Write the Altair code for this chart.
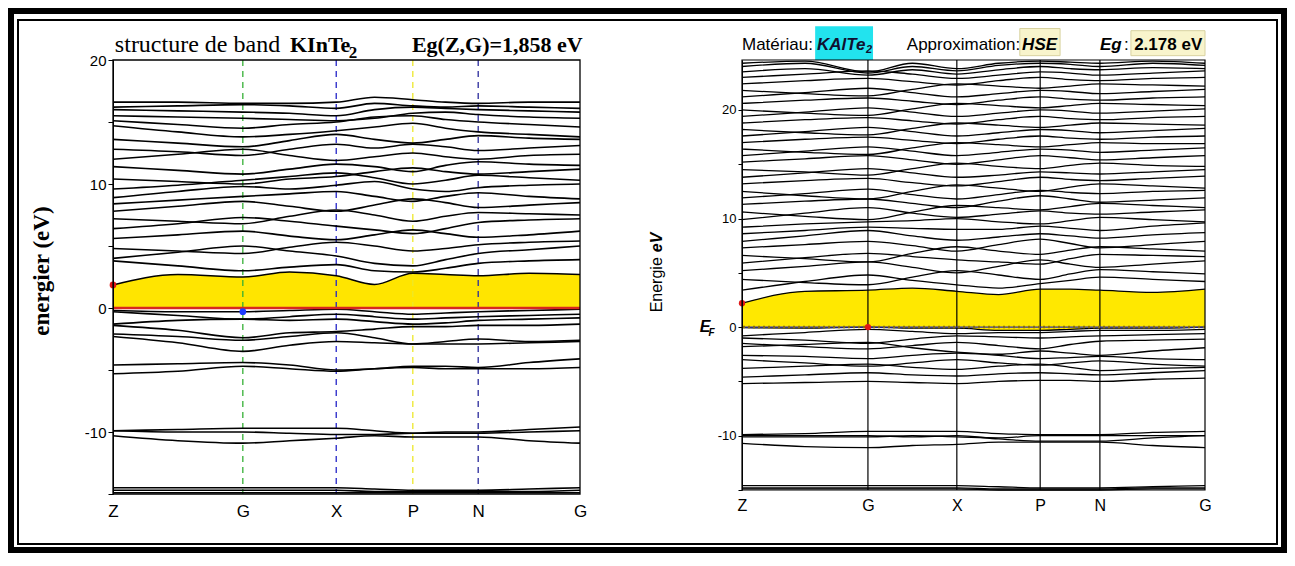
import altair as alt
import pandas as pd

# ---------------- k-path (fraction of path length) ----------------
SYM_NAMES = ["Z", "G", "X", "P", "N", "G"]
SYM_L = [0.0, 0.278, 0.478, 0.642, 0.782, 1.0]
SYM_R = [0.0, 0.272, 0.464, 0.644, 0.773, 1.0]
K_L = [0.0, 0.139, 0.278, 0.378, 0.478, 0.560, 0.642, 0.712, 0.782, 0.891, 1.0]
K_R = [0.0, 0.136, 0.272, 0.368, 0.464, 0.554, 0.644, 0.709, 0.773, 0.887, 1.0]

# ---------------- left panel : KInTe2 ----------------
CB_L = [1.86, 2.7, 2.5, 2.9, 2.6, 1.9, 2.8, 2.7, 2.6, 2.8, 2.7]
CORE_L = [
    [-14.5, -14.5, -14.5, -14.5, -14.5, -14.6, -14.7, -14.7, -14.7, -14.6, -14.5],
    [-14.7, -14.7, -14.7, -14.7, -14.7, -14.8, -14.8, -14.8, -14.8, -14.8, -14.7],
    [-14.9, -14.9, -14.9, -14.9, -14.9, -14.9, -14.9, -14.9, -14.9, -14.9, -14.9],
]
SEMI_L = [
    [-9.9, -9.8, -9.7, -9.7, -9.7, -9.9, -10.1, -10.0, -10.0, -9.8, -9.6],
    [-9.9, -10.0, -10.0, -10.1, -10.2, -10.2, -10.1, -10.1, -10.1, -10.0, -9.9],
    [-10.3, -10.7, -10.9, -10.7, -10.5, -10.3, -10.4, -10.4, -10.4, -10.7, -10.9],
]
VAL_L = [
    [-0.2, -0.3, -0.3, -0.2, -0.1, -0.3, -0.5, -0.4, -0.3, -0.2, -0.1],
    [-0.3, -0.6, -0.9, -0.7, -0.5, -0.7, -0.9, -0.8, -0.7, -0.6, -0.5],
    [-1.3, -1.0, -0.9, -1.0, -0.9, -1.1, -1.3, -1.2, -1.0, -0.9, -0.8],
    [-1.4, -1.8, -2.4, -2.0, -1.9, -1.7, -1.5, -1.5, -1.4, -1.4, -1.3],
    [-2.1, -2.3, -2.6, -2.3, -2.0, -2.4, -2.9, -2.7, -2.5, -2.7, -2.6],
    [-2.3, -2.8, -3.5, -3.0, -2.7, -2.8, -2.9, -2.9, -2.9, -2.8, -2.7],
    [-4.6, -4.5, -4.4, -4.6, -5.0, -4.9, -4.7, -4.7, -4.8, -4.4, -4.1],
    [-5.3, -5.1, -4.7, -4.9, -5.1, -4.9, -4.8, -4.9, -4.9, -4.9, -4.8],
]
COND_L = [
    [3.8, 3.4, 3.0, 3.3, 3.5, 3.0, 2.9, 3.2, 3.6, 3.8, 3.9],
    [4.0, 4.5, 5.0, 4.6, 4.2, 3.6, 3.4, 3.9, 4.4, 4.7, 5.0],
    [4.8, 4.6, 4.4, 4.9, 5.3, 5.0, 4.6, 4.8, 5.1, 5.3, 5.4],
    [5.6, 5.9, 6.2, 5.8, 5.5, 5.9, 6.3, 6.0, 5.7, 5.9, 6.2],
    [6.4, 6.8, 7.3, 7.0, 6.6, 6.3, 6.0, 6.4, 6.9, 7.1, 7.2],
    [7.2, 7.0, 6.8, 7.4, 7.9, 7.5, 7.0, 7.4, 7.7, 7.6, 7.5],
    [7.8, 8.2, 8.6, 8.2, 7.8, 8.3, 8.8, 8.5, 8.1, 8.3, 8.5],
    [8.4, 8.7, 9.0, 9.2, 9.4, 9.0, 8.6, 9.0, 9.3, 9.0, 8.8],
    [8.9, 9.4, 9.8, 9.6, 9.9, 10.2, 9.6, 9.4, 9.7, 9.9, 10.0],
    [9.6, 9.9, 10.3, 10.6, 10.9, 10.5, 10.0, 10.3, 10.7, 10.5, 10.3],
    [10.4, 10.2, 10.0, 10.4, 10.6, 11.0, 11.3, 11.0, 10.8, 11.0, 11.2],
    [11.4, 11.1, 10.8, 11.2, 11.6, 11.4, 11.0, 11.5, 11.8, 11.6, 11.5],
    [12.0, 12.4, 12.8, 12.3, 11.9, 12.2, 12.5, 12.2, 12.0, 12.3, 12.4],
    [12.8, 12.6, 12.3, 12.8, 13.2, 12.9, 13.2, 13.0, 12.7, 12.9, 13.1],
    [13.6, 13.3, 13.0, 13.5, 14.0, 13.6, 13.3, 13.6, 13.9, 13.7, 13.6],
    [14.7, 14.2, 13.8, 14.0, 14.3, 14.6, 14.9, 14.5, 14.2, 14.0, 13.8],
    [15.1, 14.8, 14.5, 14.8, 15.0, 15.4, 15.5, 15.2, 15.0, 14.8, 14.6],
    [15.5, 15.4, 15.3, 15.2, 15.1, 15.3, 15.7, 15.8, 15.6, 15.4, 15.3],
    [16.0, 15.9, 15.8, 15.7, 15.5, 16.0, 16.2, 16.1, 16.0, 15.9, 15.8],
    [16.2, 16.3, 16.4, 16.3, 16.1, 16.5, 16.3, 16.2, 16.3, 16.2, 16.1],
    [16.6, 16.6, 16.5, 16.5, 16.6, 17.0, 16.8, 16.6, 16.5, 16.6, 16.6],
]
MARK_L_K = [0.0, 0.278]
MARK_L_E = [1.858, -0.3]

# ---------------- right panel : KAlTe2 (HSE) ----------------
CB_R = [2.2, 3.3, 3.4, 3.6, 3.3, 3.0, 3.5, 3.5, 3.4, 3.2, 3.5]
VB_R = [-0.05, -0.1, 0.0, -0.1, -0.1, -0.3, -0.3, -0.2, -0.1, -0.1, 0.0]
CORE_R = [
    [-14.6, -14.6, -14.6, -14.6, -14.6, -14.7, -14.8, -14.8, -14.8, -14.7, -14.6],
    [-14.8, -14.8, -14.8, -14.8, -14.8, -14.9, -14.9, -14.9, -14.9, -14.8, -14.8],
    [-14.9, -14.9, -14.9, -14.9, -14.9, -15.0, -15.0, -15.0, -15.0, -14.9, -14.9],
]
SEMI_R = [
    [-9.9, -9.8, -9.6, -9.6, -9.6, -9.8, -9.9, -9.9, -9.9, -9.7, -9.6],
    [-10.0, -10.0, -10.0, -10.1, -10.0, -10.3, -10.5, -10.5, -10.5, -10.2, -10.0],
    [-10.1, -10.1, -10.1, -10.0, -10.1, -10.2, -10.0, -10.0, -10.0, -10.0, -10.0],
    [-10.7, -11.0, -11.1, -10.9, -10.8, -10.6, -10.6, -10.6, -10.6, -10.9, -11.1],
]
VAL_R = [
    [-0.8, -0.5, -0.2, -0.4, -0.6, -0.5, -0.5, -0.4, -0.3, -0.3, -0.2],
    [-1.0, -1.2, -1.5, -1.1, -0.8, -0.9, -1.0, -0.9, -0.8, -0.7, -0.6],
    [-1.5, -1.8, -2.0, -1.7, -1.4, -1.7, -2.0, -1.6, -1.3, -1.2, -1.1],
    [-1.8, -1.6, -1.4, -1.9, -2.3, -2.5, -2.2, -2.4, -2.6, -2.2, -1.9],
    [-2.6, -2.7, -2.9, -2.6, -2.4, -2.6, -2.9, -2.8, -2.7, -2.9, -3.0],
    [-3.0, -3.3, -3.6, -3.3, -3.0, -3.3, -3.5, -3.3, -3.1, -3.4, -3.6],
    [-3.8, -3.6, -3.4, -3.7, -3.9, -3.6, -3.4, -3.7, -4.0, -3.8, -3.7],
    [-4.6, -4.4, -4.2, -4.4, -4.5, -4.3, -4.2, -4.3, -4.4, -4.2, -4.0],
    [-5.2, -5.1, -5.0, -5.1, -5.2, -5.0, -4.9, -4.9, -5.0, -4.8, -4.7],
]
COND_R = [
    [3.4, 4.2, 4.8, 4.3, 3.9, 3.6, 4.0, 4.3, 4.6, 4.4, 4.2],
    [4.4, 4.1, 3.9, 4.6, 5.2, 4.8, 4.4, 4.9, 5.3, 5.1, 4.9],
    [5.2, 5.6, 6.0, 5.5, 5.0, 5.6, 6.2, 5.8, 5.5, 5.8, 6.1],
    [5.9, 6.4, 6.8, 6.5, 6.2, 6.0, 5.8, 6.3, 6.7, 6.6, 6.5],
    [6.6, 6.3, 6.0, 6.8, 7.4, 7.0, 6.7, 7.1, 7.4, 7.2, 7.0],
    [7.3, 7.6, 7.9, 7.5, 7.0, 7.6, 8.1, 7.7, 7.3, 7.6, 7.9],
    [7.9, 8.4, 8.9, 8.4, 8.0, 8.3, 8.6, 8.4, 8.2, 8.5, 8.7],
    [8.6, 8.9, 9.2, 9.1, 9.0, 9.0, 9.3, 9.1, 8.9, 9.3, 9.6],
    [9.2, 9.5, 9.7, 9.8, 10.0, 9.7, 9.5, 9.8, 10.1, 9.9, 9.7],
    [9.9, 10.5, 11.0, 10.5, 10.1, 10.4, 10.7, 10.5, 10.4, 10.6, 10.8],
    [10.6, 10.2, 9.9, 10.6, 11.2, 11.0, 10.8, 11.1, 11.4, 11.2, 11.0],
    [11.3, 11.6, 11.8, 11.4, 11.0, 11.6, 12.1, 11.8, 11.5, 11.7, 11.9],
    [11.9, 12.3, 12.7, 12.2, 11.8, 12.2, 12.6, 12.4, 12.3, 12.5, 12.6],
    [12.5, 12.1, 11.8, 12.5, 13.1, 12.8, 12.5, 12.9, 13.2, 13.0, 12.8],
    [13.2, 13.5, 13.7, 13.3, 13.0, 13.4, 13.8, 13.6, 13.5, 13.7, 13.9],
    [13.8, 14.2, 14.6, 14.2, 13.8, 14.0, 14.3, 14.2, 14.1, 14.3, 14.5],
    [14.5, 14.3, 14.0, 14.6, 15.1, 14.8, 14.6, 14.9, 15.1, 14.9, 14.8],
    [15.2, 15.5, 15.8, 15.4, 15.0, 15.4, 15.8, 15.6, 15.4, 15.6, 15.8],
    [15.8, 16.2, 16.6, 16.2, 15.8, 16.1, 16.4, 16.3, 16.1, 16.3, 16.5],
    [16.4, 16.1, 15.9, 16.5, 17.0, 16.8, 16.6, 16.8, 17.0, 16.9, 16.9],
    [17.0, 17.3, 17.5, 17.2, 16.9, 17.3, 17.6, 17.4, 17.3, 17.5, 17.6],
    [17.6, 18.0, 18.4, 18.0, 17.6, 17.9, 18.2, 18.1, 17.9, 18.1, 18.3],
    [18.2, 17.9, 17.7, 18.3, 18.8, 18.6, 18.4, 18.6, 18.8, 18.7, 18.6],
    [18.8, 19.1, 19.3, 19.0, 18.7, 19.1, 19.4, 19.2, 19.1, 19.3, 19.4],
    [19.4, 19.8, 20.2, 19.8, 19.4, 19.7, 20.0, 19.9, 19.7, 19.9, 20.1],
    [20.0, 19.7, 19.5, 20.1, 20.6, 20.4, 20.2, 20.4, 20.6, 20.5, 20.4],
    [20.6, 20.9, 21.1, 20.8, 20.5, 20.9, 21.2, 21.0, 20.9, 21.1, 21.2],
    [21.2, 21.6, 22.0, 21.6, 21.2, 21.5, 21.8, 21.7, 21.5, 21.7, 21.9],
    [21.8, 21.5, 21.3, 21.9, 22.4, 22.2, 22.0, 22.2, 22.4, 22.3, 22.2],
    [22.4, 22.7, 22.9, 22.6, 22.3, 22.7, 23.0, 22.8, 22.7, 22.9, 23.0],
    [23.0, 23.3, 23.6, 23.3, 22.9, 23.2, 23.5, 23.4, 23.2, 23.4, 23.6],
    [23.5, 23.8, 23.2, 23.7, 23.3, 23.7, 24.0, 23.8, 23.7, 23.9, 23.8],
    [24.0, 24.3, 23.4, 24.0, 23.6, 24.1, 24.3, 24.2, 24.0, 24.3, 24.1],
    [24.3, 24.5, 23.5, 24.3, 23.8, 24.3, 24.5, 24.4, 24.3, 24.5, 24.3],
]
MARK_R_K = [0.0, 0.272]
MARK_R_E = [2.2, 0.0]

# ---------------- helpers ----------------
W_L, H_L = 467, 434
W_R, H_R = 463, 430
YDOM_L = [-15, 20]
YDOM_R = [-15, 24.6]
SANS = "Liberation Sans"
SERIF = "Liberation Serif"
ONE = pd.DataFrame({"o": [0]})


def long_df(K, bands):
    rows = []
    for b, vals in enumerate(bands):
        for k, e in zip(K, vals):
            rows.append({"k": k, "e": e, "band": b})
    return pd.DataFrame(rows)


def xspec(sym, size, pad):
    expr = " : ".join(
        f"abs(datum.value - {p}) < 0.0005 ? '{n}'" for p, n in zip(sym, SYM_NAMES)
    ) + " : ''"
    return dict(
        scale=alt.Scale(domain=[0, 1], nice=False, zero=False),
        axis=alt.Axis(values=sym, labelExpr=expr, title=None, ticks=False, domain=False,
                      grid=False, labelFontSize=size, labelFont=SANS, labelColor="black",
                      labelPadding=pad, labelOverlap=False, labelFlush=False, zindex=2),
    )


def yspec(dom, size, tick):
    return dict(
        scale=alt.Scale(domain=dom, nice=False, zero=False),
        axis=alt.Axis(values=[-15, -10, -5, 0, 5, 10, 15, 20],
                      labelExpr="datum.value % 10 == 0 ? '' + datum.value : ''",
                      title=None, grid=False, tickSize=tick, tickColor="black",
                      domainColor="black", labelFontSize=size, labelFont=SANS,
                      labelColor="black", labelPadding=2, zindex=2),
    )


XL = xspec(SYM_L, 17, 9)
YL = yspec(YDOM_L, 15, 5)
XR = xspec(SYM_R, 16, 7)
YR = yspec(YDOM_R, 13, 4)


def text(XS, YS, k, e, t, size, font=SANS, weight="normal", style="normal",
         color="black", align="left", baseline="alphabetic", angle=0):
    return alt.Chart(ONE).mark_text(
        text=t, fontSize=size, font=font, fontWeight=weight, fontStyle=style,
        color=color, align=align, baseline=baseline, angle=angle,
    ).encode(x=alt.X(datum=k, **XS), y=alt.Y(datum=e, **YS))


def box(XS, YS, k1, k2, e1, e2, fill, stroke=None):
    kw = dict(fill=fill)
    if stroke:
        kw.update(stroke=stroke, strokeWidth=1)
    return alt.Chart(ONE).mark_rect(**kw).encode(
        x=alt.X(datum=k1, **XS), x2=alt.X2(datum=k2),
        y=alt.Y(datum=e1, **YS), y2=alt.Y2(datum=e2))


# ---------------- left panel ----------------
lines_L = long_df(K_L, CORE_L + SEMI_L + VAL_L + [CB_L] + COND_L)
area_L = pd.DataFrame({"k": K_L, "top": CB_L})
marks_L = pd.DataFrame({"k": MARK_L_K, "e": MARK_L_E, "c": ["#E01818", "#1E3CFF"]})

page_bg = alt.Chart(ONE).mark_rect(fill="white").encode(
    x=alt.value(-99), x2=alt.value(1168), y=alt.value(-46), y2=alt.value(487))
page_frame = alt.Chart(ONE).mark_rect(filled=False, stroke="black", strokeWidth=2).encode(
    x=alt.value(-95), x2=alt.value(1164), y=alt.value(-40), y2=alt.value(484))

yellow_L = alt.Chart(area_L).mark_area(color="#FFE500", interpolate="monotone").encode(
    x=alt.X("k:Q", **XL), y=alt.Y("top:Q", **YL), y2=alt.Y2(datum=0))


def vrule(XS, k, color, dash):
    return alt.Chart(ONE).mark_rule(color=color, strokeDash=dash, strokeWidth=1.3).encode(
        x=alt.X(datum=k, **XS))


rules_L = [
    vrule(XL, SYM_L[1], "#35B035", [6, 5]),
    vrule(XL, SYM_L[2], "#2424C8", [6, 5]),
    vrule(XL, SYM_L[3], "#EDE82A", [6, 5]),
    vrule(XL, SYM_L[4], "#2A2A9C", [6, 5]),
]
bands_L = alt.Chart(lines_L).mark_line(color="black", strokeWidth=1.6, interpolate="monotone").encode(
    x=alt.X("k:Q", **XL), y=alt.Y("e:Q", **YL), detail="band:N")
zero_L = alt.Chart(ONE).mark_rule(color="#D8281E", strokeWidth=2.5).encode(y=alt.Y(datum=0, **YL))
dots_L = alt.Chart(marks_L).mark_point(filled=True, size=45, opacity=1).encode(
    x=alt.X("k:Q", **XL), y=alt.Y("e:Q", **YL),
    color=alt.Color("c:N", scale=None))
plot_frame_L = alt.Chart(ONE).mark_rect(filled=False, stroke="black", strokeWidth=1.3).encode(
    x=alt.X(datum=0, **XL), x2=alt.X2(datum=1), y=alt.Y(datum=YDOM_L[0], **YL), y2=alt.Y2(datum=YDOM_L[1]))

texts_L = [
    text(XL, YL, 0.004, 20.65, "structure de band", 24, font=SERIF),
    text(XL, YL, 0.379, 20.65, "KInTe", 22, font=SERIF, weight="bold"),
    text(XL, YL, 0.505, 20.15, "2", 17, font=SERIF, weight="bold"),
    text(XL, YL, 0.640, 20.65, "Eg(Z,G)=1,858 eV", 22, font=SERIF, weight="bold"),
    text(XL, YL, -0.152, 2.98, "energier (eV)", 23, font=SERIF, weight="bold",
         align="center", baseline="middle", angle=270),
]

left = alt.layer(page_bg, page_frame, yellow_L, *rules_L, bands_L, zero_L, dots_L,
                 plot_frame_L, *texts_L).properties(width=W_L, height=H_L)

# ---------------- right panel ----------------
lines_R = long_df(K_R, CORE_R + SEMI_R + [VB_R] + VAL_R + [CB_R] + COND_R)
area_R = pd.DataFrame({"k": K_R, "top": CB_R, "bot": VB_R})
marks_R = pd.DataFrame({"k": MARK_R_K, "e": MARK_R_E})
sym_R_df = pd.DataFrame({"k": SYM_R[1:5]})

yellow_R = alt.Chart(area_R).mark_area(color="#FFE800", interpolate="monotone").encode(
    x=alt.X("k:Q", **XR), y=alt.Y("top:Q", **YR), y2=alt.Y2("bot:Q"))
rules_R = alt.Chart(sym_R_df).mark_rule(color="black", strokeWidth=1.2).encode(x=alt.X("k:Q", **XR))
bands_R = alt.Chart(lines_R).mark_line(color="black", strokeWidth=1.3, interpolate="monotone").encode(
    x=alt.X("k:Q", **XR), y=alt.Y("e:Q", **YR), detail="band:N")
ef_blue = alt.Chart(ONE).mark_rule(color="#3030B0", strokeWidth=1.3).encode(y=alt.Y(datum=0, **YR))
ef_dot = alt.Chart(ONE).mark_rule(color="#8A7206", strokeWidth=2.5, strokeDash=[2, 3]).encode(
    y=alt.Y(datum=0, **YR))
dots_R = alt.Chart(marks_R).mark_point(filled=True, size=40, opacity=1, color="#E01818").encode(
    x=alt.X("k:Q", **XR), y=alt.Y("e:Q", **YR))
plot_frame_R = alt.Chart(ONE).mark_rect(filled=False, stroke="black", strokeWidth=1.2).encode(
    x=alt.X(datum=0, **XR), x2=alt.X2(datum=1), y=alt.Y(datum=YDOM_R[0], **YR), y2=alt.Y2(datum=YDOM_R[1]))

boxes_R = [
    box(XR, YR, 0.158, 0.283, 24.6, 27.7, "#22E3EE"),
    box(XR, YR, 0.600, 0.687, 25.0, 27.5, "#F8F4CC", "#D8D2A0"),
    box(XR, YR, 0.840, 1.0, 25.0, 27.3, "#F8F4CC", "#D8D2A0"),
]
texts_R = [
    text(XR, YR, 0.0, 25.5, "Matériau:", 17),
    text(XR, YR, 0.162, 25.5, "KAlTe", 17, weight="bold", style="italic", color="#101030"),
    text(XR, YR, 0.268, 25.2, "2", 11, weight="bold", style="italic", color="#101030"),
    text(XR, YR, 0.356, 25.5, "Approximation:", 17),
    text(XR, YR, 0.605, 25.5, "HSE", 17, weight="bold", style="italic"),
    text(XR, YR, 0.773, 25.5, "Eg", 17, weight="bold", style="italic"),
    text(XR, YR, 0.825, 25.5, ":", 17),
    text(XR, YR, 0.847, 25.5, "2.178 eV", 17, weight="bold"),
    text(XR, YR, -0.184, 3.9, "Energie", 16, align="center", baseline="middle", angle=270),
    text(XR, YR, -0.184, 7.8, "eV", 16, weight="bold", style="italic",
         align="center", baseline="middle", angle=270),
    text(XR, YR, -0.080, 0.0, "E", 16, weight="bold", style="italic",
         align="center", baseline="middle"),
    text(XR, YR, -0.066, -0.55, "F", 10, weight="bold", style="italic",
         align="center", baseline="middle"),
]

right = alt.layer(*boxes_R, yellow_R, rules_R, bands_R, ef_blue, ef_dot, dots_R,
                  plot_frame_R, *texts_R).properties(width=W_R, height=H_R)

chart = alt.hconcat(left, right, spacing=162, bounds="flush").properties(
    background="black",
    padding={"left": 6, "right": 6, "top": 6, "bottom": 6},
).configure_view(stroke=None)

chart.save("out.html", embed_options={"renderer": "svg", "actions": False})
